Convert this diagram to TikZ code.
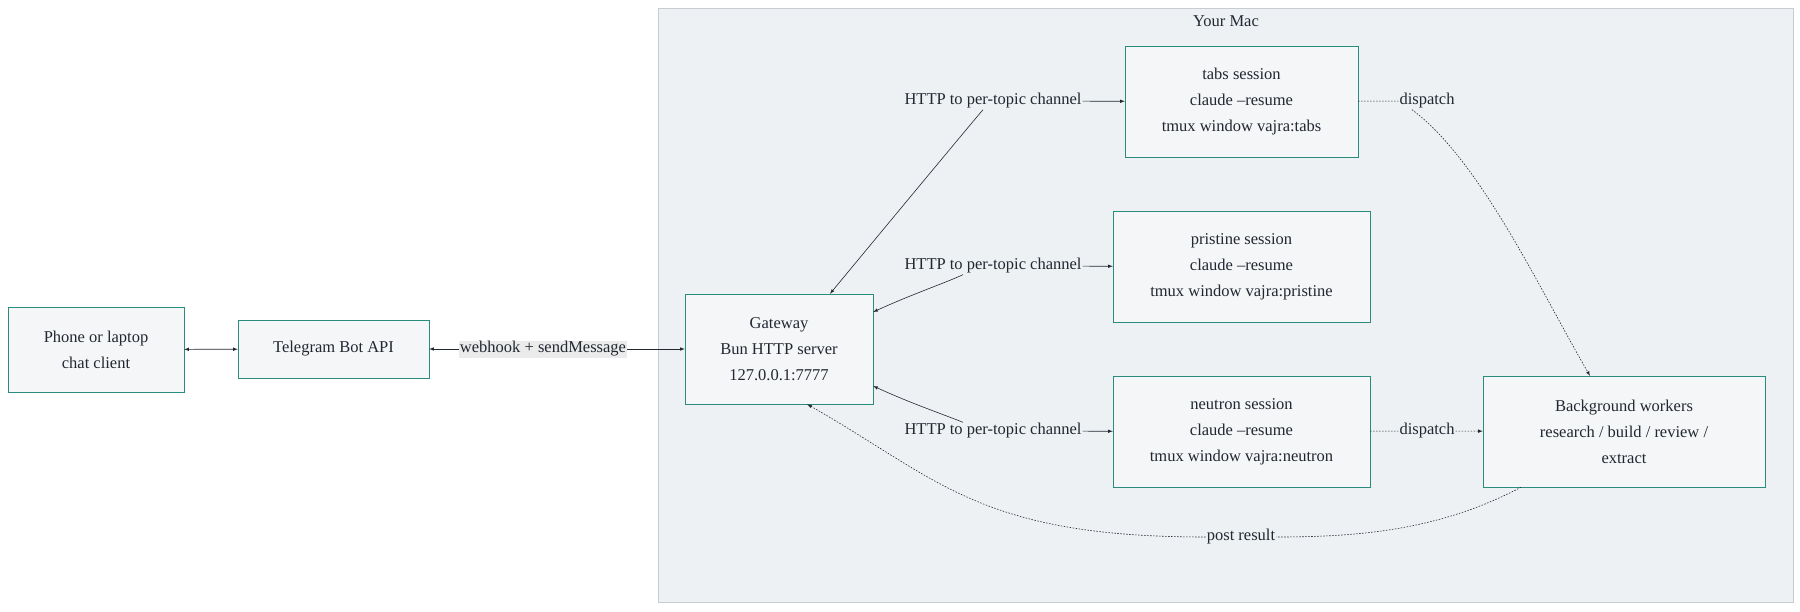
\documentclass[tikz,border=0pt]{standalone}
\usepackage{fontspec}
\setmainfont{Liberation Serif}
\usetikzlibrary{arrows}
\definecolor{boxfill}{HTML}{F5F6F8}
\definecolor{boxline}{HTML}{2A8C7C}
\definecolor{macfill}{HTML}{EDF1F4}
\definecolor{macline}{HTML}{C6CCD2}
\definecolor{ink}{HTML}{222831}
\begin{document}
\begin{tikzpicture}[x=1pt,y=-1pt,>=latex,
  box/.style={draw=boxline,fill=boxfill,align=center,inner sep=0pt,font=\fontsize{16.5}{26}\selectfont,text=ink},
  lbl/.style={fill=macfill,inner sep=1pt,font=\fontsize{16.5}{20}\selectfont,text=ink},
  link/.style={ink,line width=0.6pt},
  dot/.style={ink,line width=0.6pt,dash pattern=on 1.5pt off 1.5pt}]
\useasboundingbox (0,0) rectangle (1800,611);
% the Mac
\draw [macline,fill=macfill] (658,8) rectangle (1793,602);
\node [font=\fontsize{16.5}{20}\selectfont,text=ink] (mac) at (1226,21) {Your Mac};
% boxes
\node [box,minimum width=176,minimum height=85] (phone) at (96,349.5) {Phone or laptop\\chat client};
\node [box,minimum width=191,minimum height=58] (tg) at (333.5,349) {Telegram Bot API};
\node [box,minimum width=188,minimum height=110] (gw) at (779,349) {Gateway\\Bun HTTP server\\127.0.0.1:7777};
\node [box,minimum width=233,minimum height=111] (tabs) at (1241.5,101.5) {tabs session\\claude --resume\\tmux window vajra:tabs};
\node [box,minimum width=257,minimum height=111] (pris) at (1241.5,266.5) {pristine session\\claude --resume\\tmux window vajra:pristine};
\node [box,minimum width=257,minimum height=111] (neut) at (1241.5,431.5) {neutron session\\claude --resume\\tmux window vajra:neutron};
\node [box,minimum width=282,minimum height=111] (bg) at (1624,431.5) {Background workers\\research / build / review /\\extract};
% labels
\node [lbl,fill=black!8] (wh) at (543,349) {webhook + sendMessage};
\node [lbl] (l1) at (993,101) {HTTP to per-topic channel};
\node [lbl] (l2) at (993,266) {HTTP to per-topic channel};
\node [lbl] (l3) at (993,431) {HTTP to per-topic channel};
\node [lbl] (d1) at (1427,101) {dispatch};
\node [lbl] (d2) at (1427,431) {dispatch};
\node [lbl] (pr) at (1241,537) {post result};
% links
\draw [link,<->] (phone) -- (tg);
\draw [link,<-] (tg) -- (wh);
\draw [link,->] (wh) -- (gw);
\draw [link,<-] ([xshift=51]gw.north) .. controls (920,185) and (970,125) .. ([xshift=-10]l1.south);
\draw [link,->] (l1) -- (tabs);
\draw [link,<-] ([yshift=37]gw.east) .. controls (910,295) and (945,283) .. ([xshift=-30]l2.south);
\draw [link,->] (l2) -- (pris);
\draw [link,<-] ([yshift=-37]gw.east) .. controls (910,403) and (945,415) .. ([xshift=-30]l3.north);
\draw [link,->] (l3) -- (neut);
\draw [dot] (tabs) -- (d1);
\draw [dot,->] ([xshift=-15]d1.south) .. controls (1480,160) and (1540,290) .. ([xshift=-34]bg.north);
\draw [dot] (neut) -- (d2);
\draw [dot,->] (d2) -- (bg);
\draw [dot] ([xshift=-103]bg.south) .. controls (1440,530) and (1360,537) .. (pr.east);
\draw [dot,->] (pr.west) .. controls (980,537) and (940,480) .. ([xshift=-66]gw.south east);
\end{tikzpicture}
\end{document}
